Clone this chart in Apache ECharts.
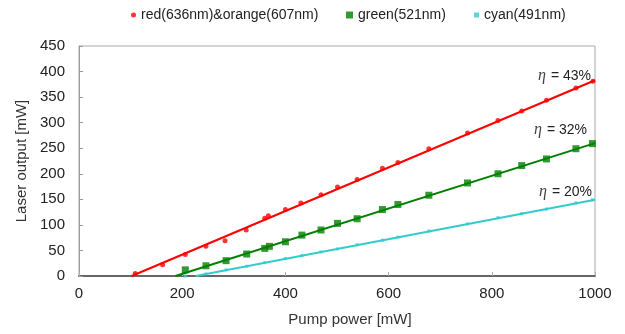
<!DOCTYPE html>
<html>
<head>
<meta charset="utf-8">
<script src="https://cdn.jsdelivr.net/npm/echarts@6/dist/echarts.min.js"></script>
<style>html,body{margin:0;padding:0;background:#fff}#c{width:625px;height:334px}</style>
</head>
<body>
<div id="c"></div>
<script>
// ---- data ----
const redX   = [109,162,206,246,283,324,360,367,400,430,469,501,539,588,618,678,753,812,858,906,963,996];
const redY   = [5,22,42,58,69,90,113,118,130,143,159,174,189,211,222,249,280,304,323,344,368,381];
const greenX = [206,246,285,325,360,369,400,432,469,501,539,588,618,678,753,812,858,906,963,995];
const greenY = [12,20,30,43,54,58,67,80,90,103,112,130,140,158,182,200,216,229,249,259];
const cyanX  = [206,246,285,325,360,400,432,469,501,539,588,618,678,753,812,858,906,963,995];
const cyanY  = [0,4,12,19,26,34,40,47,53,61,70,76,88,102,114,122,131,143,149];
const redFitX = [102,1000],  redFitY = [0,383];
const greenFitX = [187,1000], greenFitY = [0,260];
const cyanFitX = [226,1000], cyanFitY = [0,149];
const legendNames = ['red(636nm)&orange(607nm)','green(521nm)','cyan(491nm)'];
const etaLabels = ['43%','32%','20%'];
const xTicks = [0,200,400,600,800,1000];

const zip = (a,b)=>a.map((v,i)=>[v,b[i]]);
const chart = echarts.init(document.getElementById('c'), null, {renderer:'canvas'});
const font = 'Liberation Sans, Arial, sans-serif';
const colors = ['#ff0000','#008000','#33cccc'];

function legend(name, left, icon, w, h){
  return {data:[{name, icon}], left, top:8, itemWidth:w, itemHeight:h,
    textStyle:{fontFamily:font,fontSize:14,color:'#222'}, itemGap:4, padding:0,selectedMode:false};
}
function etaText(label, right, y){
  return {type:'text', right, top:y-9, style:{
    text:'{e|η} = '+label, font:'14px '+font, fill:'#222',
    rich:{e:{fontFamily:'Liberation Serif, Times New Roman, serif',fontStyle:'italic',fontSize:16,fill:'#444',padding:[0,1,0,0]}}
  }};
}

chart.setOption({
  animation:false,
  grid:{left:79,right:30,top:46,bottom:58,show:true,borderColor:'#aaa',borderWidth:1},
  legend:[
    legend(legendNames[0],131,'circle',5,5),
    legend(legendNames[1],346,'rect',7,7),
    legend(legendNames[2],474,'rect',5,5)
  ],
  xAxis:{type:'value',min:0,max:1000,interval:200,
    name:'Pump power [mW]',nameLocation:'middle',nameGap:36,
    nameTextStyle:{fontFamily:font,fontSize:15,color:'#333',padding:[0,0,0,26]},
    axisLine:{lineStyle:{color:'#666',width:2}},
    axisTick:{inside:true,length:4,lineStyle:{color:'#aaa'}},
    axisLabel:{fontFamily:font,fontSize:15,color:'#222',margin:10,
      formatter:v=>xTicks.includes(v)?String(v):''},
    splitLine:{show:false}},
  yAxis:{type:'value',min:0,max:450,interval:50,
    name:'Laser output [mW]',nameLocation:'middle',nameGap:48,
    nameTextStyle:{fontFamily:font,fontSize:15,color:'#333'},
    axisLine:{show:true,lineStyle:{color:'#999',width:1}},
    axisTick:{show:true,inside:true,length:4,lineStyle:{color:'#999'}},
    axisLabel:{fontFamily:font,fontSize:15,color:'#222',margin:14},
    splitLine:{show:false}},
  graphic:[etaText(etaLabels[0],34,77),etaText(etaLabels[1],38,131),etaText(etaLabels[2],33,193)],
  series:[
    {type:'line',data:zip(redFitX,redFitY),symbol:'none',lineStyle:{color:colors[0],width:2},z:2,silent:true},
    {type:'line',data:zip(greenFitX,greenFitY),symbol:'none',lineStyle:{color:colors[1],width:2},z:2,silent:true},
    {type:'line',data:zip(cyanFitX,cyanFitY),symbol:'none',lineStyle:{color:colors[2],width:2},z:2,silent:true},
    {name:legendNames[0],type:'scatter',data:zip(redX,redY),symbol:'circle',symbolSize:5,itemStyle:{color:colors[0]},z:3},
    {name:legendNames[1],type:'scatter',data:zip(greenX,greenY),symbol:'rect',symbolSize:7,itemStyle:{color:colors[1]},z:3},
    {name:legendNames[2],type:'scatter',data:zip(cyanX,cyanY),symbol:'rect',symbolSize:3,itemStyle:{color:colors[2]},z:3}
  ]
});
</script>
</body>
</html>
